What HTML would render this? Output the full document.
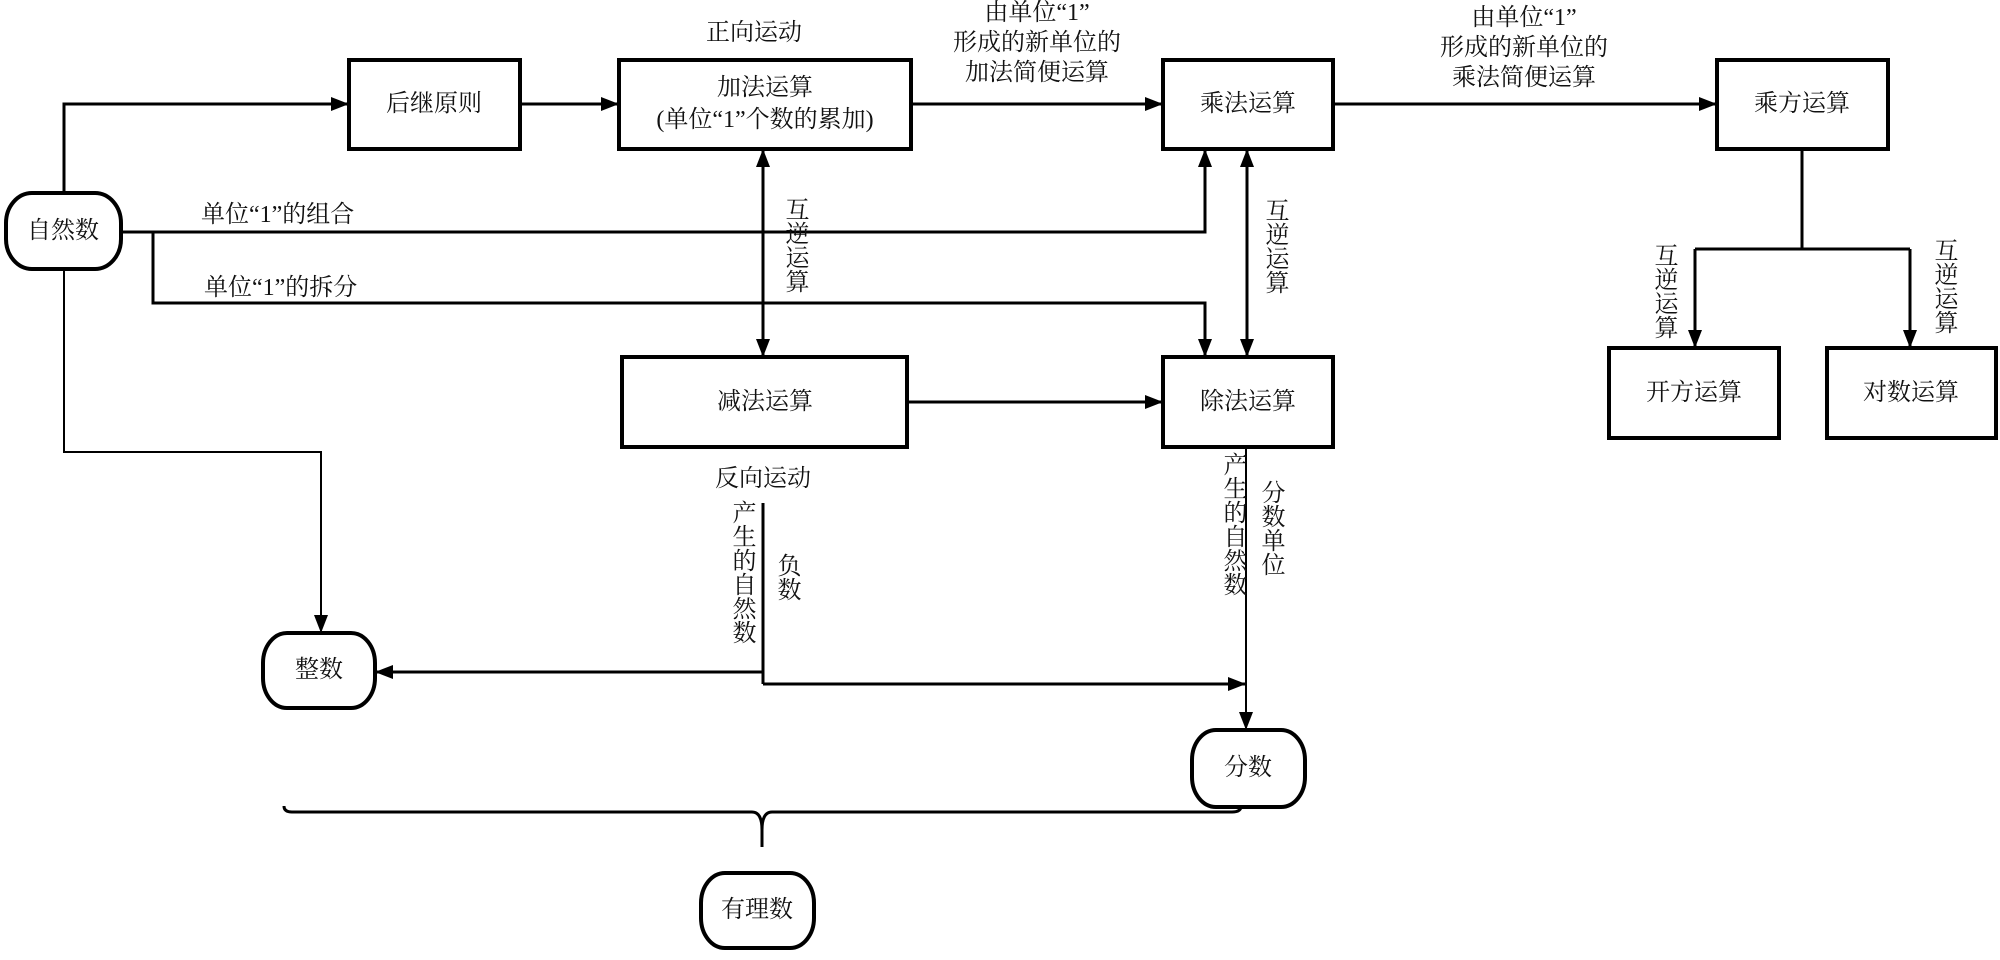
<!DOCTYPE html>
<html><head><meta charset="utf-8"><style>
html,body{margin:0;padding:0;background:#fff;}
svg text{font-family:"Liberation Serif","Noto Serif CJK SC","Noto Sans CJK SC",serif;font-size:24px;fill:#111;}
.v{writing-mode:vertical-rl;}
</style></head><body>
<svg width="2000" height="955" viewBox="0 0 2000 955" xmlns="http://www.w3.org/2000/svg">
<defs>
<marker id="a" markerUnits="userSpaceOnUse" markerWidth="20" markerHeight="16" refX="18" refY="8" orient="auto-start-reverse"><path d="M0,1 L18,8 L0,15 Z" fill="#000"/></marker>
</defs>
<g fill="none" stroke="#000" stroke-width="4">
<rect x="349" y="60" width="171" height="89"/>
<rect x="619" y="60" width="292" height="89"/>
<rect x="1163" y="60" width="170" height="89"/>
<rect x="1717" y="60" width="171" height="89"/>
<rect x="622" y="357" width="285" height="90"/>
<rect x="1163" y="357" width="170" height="90"/>
<rect x="1609" y="348" width="170" height="90"/>
<rect x="1827" y="348" width="169" height="90"/>
<rect x="6" y="193" width="115" height="76" rx="26" ry="30"/>
<rect x="263" y="633" width="112" height="75" rx="24" ry="30"/>
<rect x="1192" y="730" width="113" height="77" rx="24" ry="30"/>
<rect x="701" y="873" width="113" height="75" rx="24" ry="30"/>
</g>
<g fill="none" stroke="#000" stroke-width="3">
<polyline points="64,193 64,104 349,104" marker-end="url(#a)"/>
<line x1="520" y1="104" x2="619" y2="104" marker-end="url(#a)"/>
<line x1="911" y1="104" x2="1163" y2="104" marker-end="url(#a)"/>
<line x1="1333" y1="104" x2="1717" y2="104" marker-end="url(#a)"/>
<polyline points="121,232 1205,232 1205,149" marker-end="url(#a)"/>
<polyline points="153,232 153,303 1205,303 1205,357" marker-end="url(#a)"/>
<line x1="763" y1="149" x2="763" y2="357" marker-start="url(#a)" marker-end="url(#a)"/>
<line x1="1247" y1="149" x2="1247" y2="357" marker-start="url(#a)" marker-end="url(#a)"/>
<line x1="907" y1="402" x2="1163" y2="402" marker-end="url(#a)"/>
<line x1="1802" y1="149" x2="1802" y2="249"/>
<line x1="1695" y1="249" x2="1910" y2="249"/>
<line x1="1695" y1="249" x2="1695" y2="348" marker-end="url(#a)"/>
<line x1="1910" y1="249" x2="1910" y2="348" marker-end="url(#a)"/>
<line x1="763" y1="503" x2="763" y2="684"/>
<line x1="763" y1="672" x2="375" y2="672" marker-end="url(#a)"/>
<line x1="763" y1="684" x2="1246" y2="684" marker-end="url(#a)"/>
<path d="M284,806 Q284,812 292,812 L752,812 Q762,812 762,830 L762,847 M762,847 L762,830 Q762,812 772,812 L1232,812 Q1241,812 1241,806"/>
</g>
<g fill="none" stroke="#000" stroke-width="2">
<polyline points="64,269 64,452 321,452 321,633" marker-end="url(#a)"/>
<line x1="1246" y1="447" x2="1246" y2="730" marker-end="url(#a)"/>
</g>
<g text-anchor="middle" dominant-baseline="central">
<text x="434" y="104">后继原则</text>
<text x="765" y="88">加法运算</text>
<text x="765" y="120">(单位“1”个数的累加)</text>
<text x="1248" y="104">乘法运算</text>
<text x="1802" y="104">乘方运算</text>
<text x="765" y="402">减法运算</text>
<text x="1248" y="402">除法运算</text>
<text x="1694" y="393">开方运算</text>
<text x="1911" y="393">对数运算</text>
<text x="63" y="231">自然数</text>
<text x="319" y="670">整数</text>
<text x="1248" y="768">分数</text>
<text x="757" y="910">有理数</text>
<text x="754" y="33">正向运动</text>
<text x="763" y="479">反向运动</text>
<text x="1037" y="13">由单位“1”</text>
<text x="1037" y="43">形成的新单位的</text>
<text x="1037" y="73">加法简便运算</text>
<text x="1524" y="18">由单位“1”</text>
<text x="1524" y="48">形成的新单位的</text>
<text x="1524" y="78">乘法简便运算</text>
</g>
<g dominant-baseline="central">
<text x="201" y="215">单位“1”的组合</text>
<text x="204" y="288">单位“1”的拆分</text>
</g>
<g class="v">
<text x="794" y="197">互逆运算</text>
<text x="1274" y="198">互逆运算</text>
<text x="1663" y="243">互逆运算</text>
<text x="1943" y="238">互逆运算</text>
<text x="786" y="553">负数</text>
<text x="741" y="500">产生的自然数</text>
<text x="1270" y="480">分数单位</text>
<text x="1232" y="452">产生的自然数</text>
</g>
</svg>
</body></html>
